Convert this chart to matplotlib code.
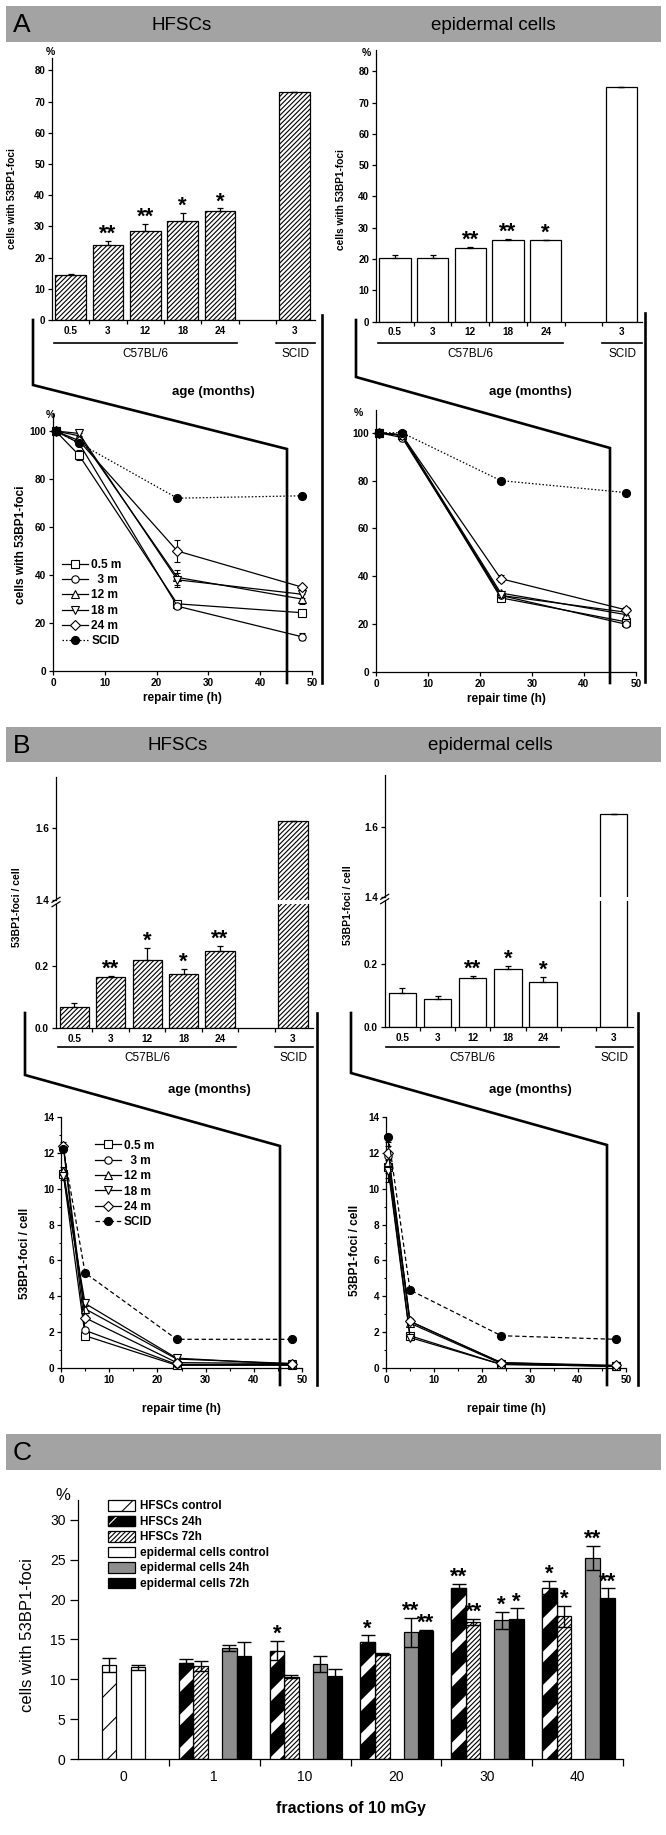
import numpy as np
import matplotlib
matplotlib.use("Agg")
import matplotlib.pyplot as plt
from matplotlib import transforms
from matplotlib.lines import Line2D
from matplotlib.patches import Rectangle
from matplotlib.legend_handler import HandlerTuple
from matplotlib.ticker import MultipleLocator

plt.rcParams['font.family'] = ['Liberation Sans', 'DejaVu Sans']
plt.rcParams['axes.linewidth'] = 0.9
plt.rcParams['xtick.major.width'] = 0.9
plt.rcParams['ytick.major.width'] = 0.9
plt.rcParams['xtick.minor.width'] = 0.8
plt.rcParams['ytick.minor.width'] = 0.8
plt.rcParams['xtick.major.size'] = 3
plt.rcParams['ytick.major.size'] = 3
plt.rcParams['xtick.minor.size'] = 1.8
plt.rcParams['ytick.minor.size'] = 1.8
plt.rcParams['xtick.major.pad'] = 2
plt.rcParams['ytick.major.pad'] = 2
plt.rcParams['hatch.linewidth'] = 0.8

# ---------------- data ----------------
age_labels = ['0.5', '3', '12', '18', '24', '3']
age_pos = [0, 1, 2, 3, 4, 6]

# A: % cells with 53BP1 foci, unirradiated
a_hfsc_pct = [14.3, 24.2, 28.5, 31.8, 35.0, 73.0]
a_hfsc_err = [0.3, 1.2, 2.3, 2.5, 0.8, 0.0]
a_hfsc_stars = ['', '**', '**', '*', '*', '']
a_epi_pct = [20.3, 20.3, 23.4, 26.0, 26.0, 75.0]
a_epi_err = [1.0, 1.0, 0.6, 0.4, 0.2, 0.0]
a_epi_stars = ['', '', '**', '**', '*', '']

# repair kinetics
repair_h = [0.5, 5, 24, 48]
kin_labels = ['0.5 m', '  3 m', '12 m', '18 m', '24 m', 'SCID']
kin_markers = ['s', 'o', '^', 'v', 'D', 'o']

a_hfsc_kin = [[100, 90, 28, 24.3],
              [100, 95, 27, 14.3],
              [100, 98, 39, 30],
              [100, 99, 38, 32],
              [100, 96, 50, 35],
              [100, 95, 72, 73]]
a_hfsc_kin_err = [[0, 2, 1, 1],
                  [0, 1, 1, 1.5],
                  [0, 1, 3, 2],
                  [0, 1, 3, 1.5],
                  [0, 1, 4.5, 1],
                  [0, 0, 0, 0]]
a_epi_kin = [[100, 99, 31, 21],
             [100, 98, 32, 20],
             [100, 99, 33, 24],
             [100, 99, 32, 25],
             [100, 99, 39, 26],
             [100, 100, 80, 75]]
a_epi_kin_err = [[0, 1, 1, 1],
                 [0, 1, 1, 1],
                 [0, 1, 1, 1],
                 [0, 1, 1, 1],
                 [0, 1, 1.5, 1],
                 [0, 0, 0, 0]]

# B: 53BP1 foci per cell
b_hfsc_foci = [0.069, 0.163, 0.218, 0.173, 0.249, 1.621]
b_hfsc_err = [0.012, 0.004, 0.04, 0.018, 0.016, 0.0]
b_hfsc_stars = ['', '**', '*', '*', '**', '']
b_epi_foci = [0.107, 0.088, 0.155, 0.183, 0.143, 1.635]
b_epi_err = [0.018, 0.01, 0.007, 0.01, 0.016, 0.0]
b_epi_stars = ['', '', '**', '*', '*', '']

b_hfsc_kin = [[10.8, 1.8, 0.15, 0.15],
              [12.3, 2.1, 0.2, 0.2],
              [11.0, 3.3, 0.5, 0.25],
              [10.7, 3.6, 0.55, 0.2],
              [12.4, 2.8, 0.3, 0.25],
              [12.2, 5.3, 1.6, 1.6]]
b_hfsc_kin_err = [[0.2, 0.15, 0.05, 0.05],
                  [0.2, 0.15, 0.05, 0.05],
                  [0.2, 0.15, 0.05, 0.05],
                  [0.2, 0.15, 0.05, 0.05],
                  [0.2, 0.15, 0.05, 0.05],
                  [0, 0, 0, 0]]
b_epi_kin = [[11.2, 1.8, 0.2, 0.1],
             [11.8, 2.6, 0.3, 0.1],
             [11.5, 2.5, 0.25, 0.1],
             [11.0, 1.7, 0.2, 0.1],
             [12.0, 2.6, 0.3, 0.15],
             [12.9, 4.35, 1.8, 1.6]]
b_epi_kin_err = [[0.6, 0.15, 0.05, 0.05],
                 [0.6, 0.15, 0.05, 0.05],
                 [0.6, 0.15, 0.05, 0.05],
                 [0.6, 0.15, 0.05, 0.05],
                 [0.6, 0.15, 0.05, 0.05],
                 [0, 0, 0, 0]]

# C: fractionated low dose
fraction_labels = ['0', '1', '10', '20', '30', '40']
hfsc_ctrl = 11.8
hfsc_ctrl_err = 0.85
epi_ctrl = 11.5
epi_ctrl_err = 0.3
hfsc_24h = [12.0, 13.6, 14.7, 21.4, 21.5]
hfsc_24h_err = [0.5, 1.2, 0.8, 0.6, 0.8]
hfsc_24h_stars = ['', '*', '*', '**', '*']
hfsc_72h = [11.7, 10.35, 13.2, 17.2, 17.9]
hfsc_72h_err = [0.6, 0.2, 0.1, 0.4, 1.3]
hfsc_72h_stars = ['', '', '', '**', '*']
epi_24h = [13.9, 11.9, 15.9, 17.4, 25.2]
epi_24h_err = [0.4, 1.0, 1.8, 1.1, 1.5]
epi_24h_stars = ['', '', '**', '*', '**']
epi_72h = [12.9, 10.4, 16.0, 17.6, 20.2]
epi_72h_err = [1.8, 0.9, 0.2, 1.3, 1.2]
epi_72h_stars = ['', '', '**', '*', '**']
c_legend = ['HFSCs control', 'HFSCs 24h', 'HFSCs 72h',
            'epidermal cells control', 'epidermal cells 24h', 'epidermal cells 72h']

# ---------------- figure ----------------
W, H = 666, 1835
fig = plt.figure(figsize=(W / 100, H / 100), dpi=100)
# pixel coordinates, origin top left
PX = transforms.Affine2D().scale(1 / W, -1 / H).translate(0, 1) + fig.transFigure
HEADER_GREY = '#a3a3a3'
STAR_SIZE = 16


def axes_px(x0, y0, x1, y1):
    return fig.add_axes([x0 / W, 1 - y1 / H, (x1 - x0) / W, (y1 - y0) / H])


def tidy(ax, bottom=True):
    ax.spines['top'].set_visible(False)
    ax.spines['right'].set_visible(False)
    if not bottom:
        ax.spines['bottom'].set_visible(False)
    ax.patch.set_alpha(0)


def header(y0, y1, letter, titles):
    fig.add_artist(Rectangle((6, y0), 655, y1 - y0, transform=PX, color=HEADER_GREY, lw=0))
    fig.text(13, (y0 + y1) / 2 + 1, letter, transform=PX, fontsize=19, ha='left', va='center')
    for x, t in titles:
        fig.text(x, (y0 + y1) / 2 + 1, t, transform=PX, fontsize=13.5, ha='center', va='center')


def bracket(pts, lw=1.9):
    xs, ys = zip(*pts)
    fig.add_artist(Line2D(xs, ys, transform=PX, color='black', lw=lw, solid_joinstyle='miter'))


def ptext(x, y, s, **kw):
    fig.text(x, y, s, transform=PX, **kw)


def stars_on(ax, xs, tops, stars, size=STAR_SIZE):
    for x, t, s in zip(xs, tops, stars):
        if s:
            ax.annotate(s, xy=(x, t), xytext=(0, 0.8), textcoords='offset points',
                        ha='center', va='baseline', fontsize=size, fontweight='bold',
                        annotation_clip=False)


def age_bars(ax, vals, errs, hatch, width):
    n = len(vals)
    ax.bar(age_pos, vals, width, color='white', edgecolor='black', hatch=hatch,
           lw=0.9, zorder=2)
    ax.errorbar(age_pos, vals, yerr=[np.zeros(n), errs], fmt='none', ecolor='black',
                elinewidth=0.9, capsize=2.5, capthick=0.9, zorder=3)
    ax.set_xlim(-0.5, 6.55)


def age_xaxis(ax, line_y, text_y):
    ax.set_xticks(age_pos)
    ax.set_xticklabels(age_labels, fontsize=7.2, fontweight='bold')
    ax.tick_params(axis='x', which='major', length=0, pad=4)
    ax.set_xticks([0.5, 1.5, 2.5, 3.5, 4.5, 5.5], minor=True)
    ax.tick_params(axis='x', which='minor', length=3, width=0.9)
    tr = transforms.blended_transform_factory(ax.transData, PX)
    ax.plot([-0.45, 4.45], [line_y, line_y], transform=tr, color='black', lw=1.2, clip_on=False)
    ax.plot([5.5, 6.55], [line_y, line_y], transform=tr, color='black', lw=1.2, clip_on=False)
    ax.text(2, text_y, 'C57BL/6', transform=tr, ha='center', va='center', fontsize=8.5)
    ax.text(6.02, text_y, 'SCID', transform=tr, ha='center', va='center', fontsize=8.5)


def kinetics(ax, series, errs, dash):
    handles = []
    for vals, err, mk, lab in zip(series, errs, kin_markers, kin_labels):
        scid = lab == 'SCID'
        c = ax.errorbar(repair_h, vals, yerr=err, color='black', lw=0.9,
                        ls=dash if scid else '-', marker=mk,
                        ms=5.8 if scid else 5.3, mfc='black' if scid else 'white',
                        mec='black', mew=0.8, capsize=2, elinewidth=0.8,
                        capthick=0.8, clip_on=False, zorder=3)
        handles.append(c[0])
    ax.set_xlim(0, 50)
    ax.xaxis.set_major_locator(MultipleLocator(10))
    for lab in ax.get_xticklabels() + ax.get_yticklabels():
        lab.set_fontweight('bold')
        lab.set_fontsize(7.2)
    return handles


def kin_legend(ax, handles, anchor):
    ax.legend(handles, kin_labels, loc='upper left', bbox_to_anchor=anchor, frameon=False,
              prop={'weight': 'bold', 'size': 8.6}, handlelength=2.2, handletextpad=0.25,
              labelspacing=0.28, borderpad=0, borderaxespad=0)


# ================= Panel A =================
header(6, 42, 'A', [(182, 'HFSCs'), (493, 'epidermal cells')])

ax = axes_px(52, 58, 315, 320)
tidy(ax)
age_bars(ax, a_hfsc_pct, a_hfsc_err, '///////', 0.82)
ax.set_ylim(0, 84)
ax.set_yticks(range(0, 81, 10))
ax.set_yticklabels([str(v) for v in range(0, 81, 10)], fontsize=7, fontweight='bold')
stars_on(ax, age_pos, np.add(a_hfsc_pct, a_hfsc_err), a_hfsc_stars)
age_xaxis(ax, 343, 354)
ptext(50, 52, '%', fontsize=7.5, fontweight='bold', ha='center', va='center')
ptext(12.5, 199, 'cells with 53BP1-foci', fontsize=7.3, fontweight='bold', rotation=90,
      ha='center', va='center')

ax = axes_px(376, 50, 642, 321.7)
tidy(ax)
age_bars(ax, a_epi_pct, a_epi_err, None, 0.83)
ax.set_ylim(0, 86.8)
ax.set_yticks(range(0, 81, 10))
ax.set_yticklabels([str(v) for v in range(0, 81, 10)], fontsize=7, fontweight='bold')
stars_on(ax, age_pos, np.add(a_epi_pct, a_epi_err), a_epi_stars)
age_xaxis(ax, 343, 354)
ptext(366, 53, '%', fontsize=7.5, fontweight='bold', ha='center', va='center')
ptext(340.5, 200, 'cells with 53BP1-foci', fontsize=7.3, fontweight='bold', rotation=90,
      ha='center', va='center')

for x in (213, 530):
    ptext(x, 392, 'age (months)', fontsize=9.5, fontweight='bold', ha='center', va='center')

bracket([(33, 320), (33, 385), (287, 449), (287, 683)])
bracket([(322, 315), (322, 683)])
bracket([(356, 320), (356, 377), (610, 448), (610, 683)])
bracket([(645, 313), (645, 682)])

ax = axes_px(53, 413, 312, 671)
tidy(ax)
ax.set_ylim(0, 107.5)
ax.yaxis.set_major_locator(MultipleLocator(20))
h = kinetics(ax, a_hfsc_kin, a_hfsc_kin_err, (0, (1.2, 1.6)))
kin_legend(ax, h, (0.035, 0.435))
ax.set_xlabel('repair time (h)', fontsize=8.5, fontweight='bold', labelpad=3)
ptext(50, 415, '%', fontsize=7.5, fontweight='bold', ha='center', va='center')
ptext(21, 545, 'cells with 53BP1-foci', fontsize=8.6, fontweight='bold', rotation=90,
      ha='center', va='center')

ax = axes_px(376, 410, 636, 672)
tidy(ax)
ax.set_ylim(0, 109.5)
ax.yaxis.set_major_locator(MultipleLocator(20))
kinetics(ax, a_epi_kin, a_epi_kin_err, (0, (1.2, 1.6)))
ax.set_xlabel('repair time (h)', fontsize=8.5, fontweight='bold', labelpad=3)
ptext(358, 413, '%', fontsize=7.5, fontweight='bold', ha='center', va='center')

# ================= Panel B =================
header(727, 762, 'B', [(178, 'HFSCs'), (490, 'epidermal cells')])


def broken_bars(x0, x1, y_top, y_break_up, y_break_low, y_zero, up_top, vals, errs, stars,
                hatch, width):
    up = axes_px(x0, y_top, x1, y_break_up)
    low = axes_px(x0, y_break_low, x1, y_zero)
    tidy(up, bottom=False)
    tidy(low)
    for a in (up, low):
        age_bars(a, vals, errs, hatch, width)
    up.set_ylim(1.4, up_top)
    low.set_ylim(0, 0.4)
    up.set_yticks([1.4, 1.6])
    up.set_yticklabels(['1.4', '1.6'], fontsize=7.2, fontweight='bold')
    low.set_yticks([0.0, 0.2])
    low.set_yticklabels(['0.0', '0.2'], fontsize=7.2, fontweight='bold')
    up.tick_params(axis='x', which='both', bottom=False, labelbottom=False)
    stars_on(low, age_pos[:5], np.add(vals, errs)[:5], stars[:5])
    age_xaxis(low, 1047, 1058)
    ym = (y_break_up + y_break_low) / 2
    for dy in (-2.2, 2.2):
        fig.add_artist(Line2D([x0 - 4, x0 + 4], [ym + dy + 2.5, ym + dy - 2.5], transform=PX,
                              color='black', lw=0.9))
    return low


broken_bars(56, 313, 777, 900, 904, 1028, 1.743, b_hfsc_foci, b_hfsc_err, b_hfsc_stars,
            '///////', 0.8)
ptext(17, 907, '53BP1-foci / cell', fontsize=7.5, fontweight='bold', rotation=90,
      ha='center', va='center')
broken_bars(384.7, 633, 775, 897, 901, 1027, 1.747, b_epi_foci, b_epi_err, b_epi_stars,
            None, 0.78)
ptext(348, 905, '53BP1-foci / cell', fontsize=7.5, fontweight='bold', rotation=90,
      ha='center', va='center')

for x in (209, 530):
    ptext(x, 1090, 'age (months)', fontsize=9.5, fontweight='bold', ha='center', va='center')

bracket([(25, 1013), (25, 1075), (280, 1146), (280, 1385)])
bracket([(317, 1013), (317, 1385)])
bracket([(351, 1013), (351, 1073), (607, 1145), (607, 1385)])
bracket([(638, 1013), (638, 1385)])

ax = axes_px(61, 1117, 302, 1368)
tidy(ax)
ax.set_ylim(0, 14)
ax.yaxis.set_major_locator(MultipleLocator(2))
ax.yaxis.set_minor_locator(MultipleLocator(1))
ax.xaxis.set_minor_locator(MultipleLocator(5))
h = kinetics(ax, b_hfsc_kin, b_hfsc_kin_err, (0, (3.5, 2.2)))
kin_legend(ax, h, (0.14, 0.91))
ax.set_xlabel('repair time (h)', fontsize=8.5, fontweight='bold', labelpad=13)
ptext(25, 1253, '53BP1-foci / cell', fontsize=8.6, fontweight='bold', rotation=90,
      ha='center', va='center')

ax = axes_px(386, 1117, 626, 1368)
tidy(ax)
ax.set_ylim(0, 14)
ax.yaxis.set_major_locator(MultipleLocator(2))
ax.yaxis.set_minor_locator(MultipleLocator(1))
ax.xaxis.set_minor_locator(MultipleLocator(5))
kinetics(ax, b_epi_kin, b_epi_kin_err, (0, (3.5, 2.2)))
ax.set_xlabel('repair time (h)', fontsize=8.5, fontweight='bold', labelpad=13)
ptext(354.5, 1250, '53BP1-foci / cell', fontsize=8.6, fontweight='bold', rotation=90,
      ha='center', va='center')

# ================= Panel C =================
header(1434, 1470, 'C', [])

ax = axes_px(78, 1500, 623, 1759)
tidy(ax)
grp = np.arange(1, len(fraction_labels))
bw = 0.16
err_kw = dict(fmt='none', ecolor='black', elinewidth=1.0, capsize=5, capthick=1.0, zorder=6)

ctrl_h = ax.bar([-0.16], [hfsc_ctrl], bw, color='white', edgecolor='black', hatch='/', lw=0.9,
                zorder=2)
ax.errorbar([-0.16], [hfsc_ctrl], yerr=[hfsc_ctrl_err], **err_kw)
ctrl_e = ax.bar([0.16], [epi_ctrl], bw, color='white', edgecolor='black', lw=0.9, zorder=2)
ax.errorbar([0.16], [epi_ctrl], yerr=[epi_ctrl_err], **err_kw)

x24 = grp - 0.31
b24 = ax.bar(x24, hfsc_24h, bw, color='black', edgecolor='black', lw=0.9, zorder=2)
with plt.rc_context({'hatch.linewidth': 5.5}):
    s24 = ax.bar(x24, hfsc_24h, bw, color='none', edgecolor='white', hatch='/', lw=0, zorder=3)
    for p in s24:
        if hasattr(p, 'set_hatch_linewidth'):
            p.set_hatch_linewidth(5.5)
o24 = ax.bar(x24, hfsc_24h, bw, color='none', edgecolor='black', lw=0.9, zorder=4)
ax.errorbar(x24, hfsc_24h, yerr=hfsc_24h_err, **err_kw)

x72 = grp - 0.15
b72 = ax.bar(x72, hfsc_72h, bw, color='white', edgecolor='black', hatch='///////', lw=0.9,
             zorder=2)
ax.errorbar(x72, hfsc_72h, yerr=hfsc_72h_err, **err_kw)

xe24 = grp + 0.165
e24 = ax.bar(xe24, epi_24h, bw, color='#8e8e8e', edgecolor='black', lw=0.9, zorder=2)
ax.errorbar(xe24, epi_24h, yerr=epi_24h_err, **err_kw)

xe72 = grp + 0.33
e72 = ax.bar(xe72, epi_72h, bw, color='black', edgecolor='black', lw=0.9, zorder=2)
ax.errorbar(xe72, epi_72h, yerr=epi_72h_err, **err_kw)

for xs, vals, errs, st in ((x24, hfsc_24h, hfsc_24h_err, hfsc_24h_stars),
                           (x72, hfsc_72h, hfsc_72h_err, hfsc_72h_stars),
                           (xe24, epi_24h, epi_24h_err, epi_24h_stars),
                           (xe72, epi_72h, epi_72h_err, epi_72h_stars)):
    stars_on(ax, xs, np.add(vals, errs), st)

ax.set_xlim(-0.5, 5.5)
ax.set_ylim(0, 32.5)
ax.set_yticks(range(0, 31, 5))
ax.set_yticklabels([str(v) for v in range(0, 31, 5)], fontsize=10)
ax.tick_params(axis='y', length=6, pad=3)
ax.set_xticks(np.arange(len(fraction_labels)))
ax.set_xticklabels(fraction_labels, fontsize=10)
ax.tick_params(axis='x', which='major', length=0, pad=8)
ax.set_xticks(np.arange(len(fraction_labels)) + 0.5, minor=True)
ax.tick_params(axis='x', which='minor', length=5, width=0.9)
ax.set_xlabel('fractions of 10 mGy', fontsize=11.5, fontweight='bold', labelpad=12)
ptext(63, 1495, '%', fontsize=12, ha='center', va='center')
ptext(27.5, 1635, 'cells with 53BP1-foci', fontsize=12, rotation=90, ha='center', va='center')

ax.legend([ctrl_h[0], (b24[0], s24[0], o24[0]), b72[0], ctrl_e[0], e24[0], e72[0]], c_legend,
          handler_map={tuple: HandlerTuple(ndivide=1)}, loc='upper left',
          bbox_to_anchor=(0.055, 1.0), frameon=False, prop={'weight': 'bold', 'size': 8.5},
          handlelength=2.3, handleheight=1.0, handletextpad=0.4, labelspacing=0.27,
          borderpad=0, borderaxespad=0)

fig.savefig('out.png', dpi=100)
